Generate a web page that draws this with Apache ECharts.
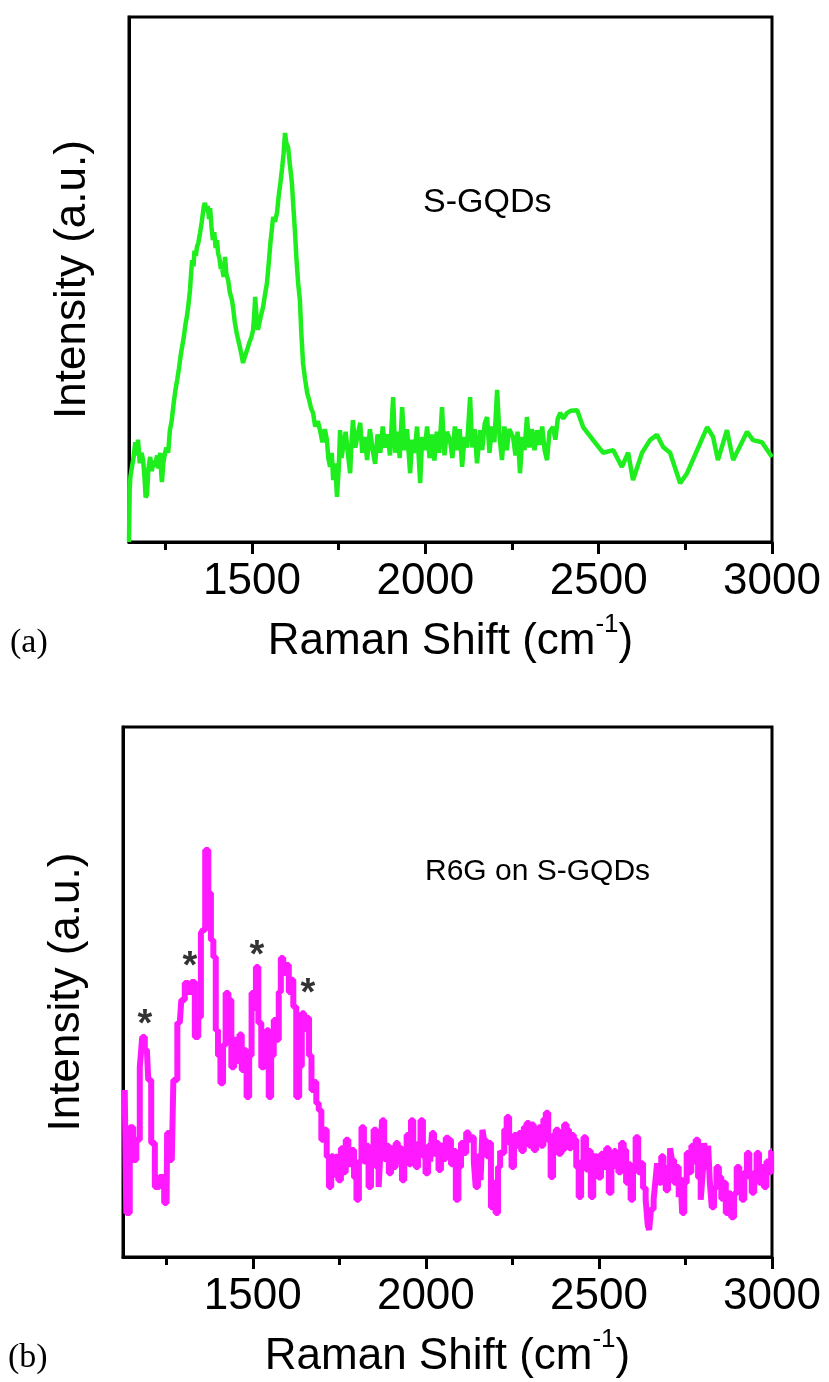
<!DOCTYPE html>
<html>
<head>
<meta charset="utf-8">
<title>Raman</title>
<script src="https://cdn.jsdelivr.net/npm/echarts@6/dist/echarts.min.js"></script>
<style>
  html,body{margin:0;padding:0;background:#fff;}
  #main{width:829px;height:1382px;}
</style>
</head>
<body>
<div id="main"></div>
<script>
// (a) S-GQDs
var shiftA = [1145,1147,1149,1154,1158,1163,1168,1171,1176,1181,1186,1190,1193,1197,1201,1206,1211,1215,1220,1226,1230,1235,1238,1240,1244,1249,1253,1258,1263,1268,1274,1279,1284,1289,1294,1298,1303,1308,1312,1317,1321,1324,1327,1331,1334,1338,1341,1345,1350,1355,1358,1361,1364,1368,1372,1376,1379,1383,1387,1391,1395,1399,1402,1406,1410,1413,1418,1422,1426,1431,1436,1442,1445,1450,1455,1460,1465,1470,1474,1480,1486,1492,1498,1503,1506,1509,1513,1517,1522,1527,1532,1537,1543,1548,1553,1557,1561,1566,1572,1577,1582,1587,1591,1595,1599,1604,1609,1615,1619,1624,1628,1633,1638,1642,1647,1653,1659,1665,1670,1676,1682,1690,1696,1703,1710,1716,1720,1725,1730,1734,1740,1745,1750,1754,1758,1763,1770,1777,1783,1787,1791,1798,1805,1812,1818,1825,
  1832,1840,1848,1855,1862,1870,1877,1884,1891,1898,1907,1913,1920,1926,1933,1940,1947,1956,1962,1969,1976,1985,1991,1998,2005,2012,2019,2026,2033,2040,2048,2055,2062,2071,2078,2085,2092,2099,2106,2113,2120,2129,2135,2142,2149,2158,2164,2171,2178,2185,2192,2199,2207,2214,2221,2228,2235,2242,2253,2260,2266,2273,2280,2286,2293,2300,2307,2315,2322,2330,2337,2344,2351,2358,2368,2375,2382,2389,2398,2409,2420,2438,
  2455,2484,2513,2542,2567,2585,2599,2625,2648,2668,2686,2706,2735,2755,2784,2813,2830,2844,2870,2888,2928,2945,2971,3000];
var intensityA = [0,10,12.4,14.5,16,19,16.5,19.5,15,17,15.5,12,8.5,9,14,16.2,13.5,15.5,14.3,16.5,14,17,13,11.4,15,17,18,17,21.3,23,26.5,29,30.9,33,35.5,37.1,39,41.5,42.9,45.5,48,51,53.7,52.5,55.5,54.5,56.2,57,58.9,61,62.5,64,64.6,63,64,61.5,63.6,60,57.5,59,56,57.5,55,54,52,52.4,50.5,54.3,51,49.9,47.5,46.1,44.8,42,40,38.5,37.1,35.5,34.1,35.5,36.6,38,39,40.4,43,46.7,43,40.4,42,43.5,44.8,47,49.3,53,57,59.5,61.9,61,62.7,66,68.5,71.4,74,77.9,76,75.2,72,68.4,64,58.9,54,49.3,46.1,40,34.1,31,28.4,27,25.5,24.6,22,23,21.3,19,21.5,19.4,16,14.3,17,11.8,15,8.6,14,21.3,16,18.1,21,16.5,13.1,19,23.2,18,20.5,22.7,17,20,
  15.6,21.5,17.5,14.9,20.5,17,22,18,20.5,16.5,27.6,17,21,16,25.7,17.5,21.5,13.1,19.5,17,22,11.2,20,17.5,22,16,20.5,15.5,21,17,25.7,16.5,21,19.4,16,22,17.5,21.5,14.3,20,18,27.6,18,21.5,15,21.3,17.5,22.5,23.8,17,22,19,29,20,15.6,22,17.5,21.5,20,16.5,21,13.1,20,17.5,23.8,18,21.5,17.5,21.3,18.5,22,17.5,15.6,21,21.9,19.5,23.5,24.6,23.5,24.6,25,25.1,
  21.9,19.4,17,17.5,14.3,17,11.8,17,19.4,20.4,18.1,17,11.2,13.1,17.5,21.9,20,15.6,21.3,15.6,21,19.4,19,16.2];

// (b) R6G on S-GQDs
var shiftB = [1130,1139,1150,1159,1168,1179,1182,1194,1202,1211,1223,1237,1251,1254,1266,1275,1289,1298,1309,1318,1327,1338,1347,1353,1358,1367,1376,1382,1390,1396,1403,1410,1418,1425,1434,1442,1450,1458,1465,1471,1478,1486,1493,1500,1506,1512,1520,1529,1536,1543,1549,1557,1564,1572,1578,1584,1592,1601,1607,1613,1621,1630,1638,1645,1652,1659,1666,1673,1680,1687,1694,1702,1710,1717,
  1723,1730,1736,1743,1751,1758,1765,1772,1780,1789,1796,1803,1810,1818,1824,1831,1838,1845,1853,1860,1867,1871,1876,1883,1890,1896,1903,1910,1916,1922,1928,1934,1941,1948,1954,1960,1967,1974,1981,1988,1995,2003,2010,2015,2020,2027,2033,2040,2047,2054,2061,2069,2076,2083,2090,2098,2105,2113,2120,2127,2136,2141,2147,2154,2162,2165,2172,2179,2185,2191,2198,2205,2212,2217,2223,2230,2237,2244,2251,2258,2265,2272,2279,2287,2295,2302,2308,2315,2322,2329,2336,2343,2350,2357,2364,2371,2379,2386,2396,2403,2410,2417,2424,2431,2438,2445,2452,2459,2466,2473,2480,2487,2494,2502,2510,2517,2525,2532,2540,2546,2552,2560,2568,2575,2582,2588,2595,2602,2610,2617,2624,2631,2639,2643,2647,2654,2662,2666,2670,2677,2683,2690,2696,2703,2708,2714,2720,2727,2734,2738,2743,2750,2757,2764,2770,2776,2783,2790,2798,2802,2806,2813,2818,2823,2829,2836,2843,2850,2857,2863,2870,2877,2887,2894,2902,2909,2916,2924,2931,2938,2945,2952,2959,2966,2973,2980,2988,2995,3000];
var intensityB = [31.5,8.3,24.5,18.3,22.1,35.8,41.5,39.1,33.4,21.5,13.2,15.1,10.2,23.4,18.3,33.4,44.2,48.5,51.7,50,51.9,41.5,45.3,61.1,61.7,76.8,68.7,59.8,56.6,42.8,38,32.8,40,49.8,48.5,35.8,41,37,42,35.3,39,30.2,38,49.8,47,54.7,44.2,35.8,40,42.8,30.2,38,44.7,41,50,56.4,53.6,55.1,50,52.3,47.2,30.2,36,46,43,45.1,38,31.5,33,29,27.7,22.1,24,18.9,
  13.2,19,15.5,18.9,14.5,20.5,16,22.1,17.5,20.2,15,10.8,18,24.5,18,21,13.2,19.5,24,17,13.2,20,25.8,18.5,21,15.8,20.5,17,21.5,18,20.5,14.5,19,23,17.5,25.8,19,17,21.5,25.8,19,15.8,21,18,23.4,19.5,21.5,16.4,21,18.5,22.5,22.1,17.5,20,10.8,17,21.5,19.6,23.5,22.1,22.6,18,13.2,19,14.5,24,22,19,21.5,9.4,14,8.3,17,20,19.6,24,26.4,21.5,17,23,21,23.4,20,24.5,25.3,21,25,20.2,24,24.5,21,26,27.2,22,15.1,23,24,19.5,20.2,25,24,20.5,23,22.1,17,11.3,18,22.6,16.5,20,11.3,19,18.9,15,19.5,17,20.5,12.1,17,20,18.9,16,21.5,20.2,14,17.5,10.8,17,22.6,16,17.7,13,10.8,6,5.1,9,10.8,15,17.7,14,19,16,12.6,17,20.5,18.3,14,17,11.3,15,8.3,14,19.6,16,21,18,22.1,15,10.8,16,21.5,17,21,14,9.4,13,17,15.1,11,14,8.3,12,7.5,12,17,13,10.8,16,19.6,15,12.1,16,19.6,14,17,13.2,18,16,20];

// asterisks over the R6G bands
var starShift = [1188, 1318, 1512, 1659];
var starHeight = [45.3, 56.4, 58.3, 51.3];

var majorTicks = [1500, 2000, 2500, 3000];
var minorTicks = [1250, 1750, 2250, 2750];

function pairs(xs, ys) {
  var out = [];
  for (var i = 0; i < xs.length; i++) {
    out.push([xs[i], ys[i]]);
  }
  return out;
}

var font = 'Liberation Sans, Arial, sans-serif';
var axisName = '{m|Raman Shift (cm}{s|-1}{m|)}';

function mainX(grid, min) {
  return {
    type: 'value', gridIndex: grid, position: 'bottom', min: min, max: 3000,
    name: axisName, nameLocation: 'middle', nameGap: 70,
    nameTextStyle: {
      color: '#000',
      rich: {
        m: {fontFamily: font, fontSize: 44, color: '#000', lineHeight: 60},
        s: {fontFamily: font, fontSize: 26, color: '#000', verticalAlign: 'top', lineHeight: 26}
      }
    },
    axisLine: {show: true, lineStyle: {color: '#000', width: 3}},
    axisTick: {show: true, customValues: majorTicks, length: 12, lineStyle: {color: '#000', width: 3}},
    axisLabel: {
      show: true, customValues: majorTicks, margin: 18, color: '#000', fontFamily: font, fontSize: 44,
      formatter: function (v) { return String(v); }
    },
    splitLine: {show: false}
  };
}
function minorX(grid, min) {
  return {
    type: 'value', gridIndex: grid, position: 'bottom', min: min, max: 3000,
    axisLine: {show: false},
    axisTick: {show: true, customValues: minorTicks, length: 8, lineStyle: {color: '#000', width: 3}},
    axisLabel: {show: false},
    splitLine: {show: false}
  };
}
function yAx(grid) {
  return {
    type: 'value', gridIndex: grid, min: 0, max: 100,
    name: 'Intensity (a.u.)', nameLocation: 'middle', nameGap: 34, nameRotate: 90,
    nameTextStyle: {color: '#000', fontFamily: font, fontSize: 44},
    axisLine: {show: true, lineStyle: {color: '#000', width: 3}},
    axisTick: {show: false}, axisLabel: {show: false}, splitLine: {show: false}
  };
}

var myChart = echarts.init(document.getElementById('main'), null, {renderer: 'canvas'});
var option = {
  backgroundColor: '#fff',
  animation: false,
  grid: [
    {left: 129, right: 57, top: 17, height: 525, show: true, borderColor: '#000', borderWidth: 3},
    {left: 123, right: 57, top: 727, height: 530, show: true, borderColor: '#000', borderWidth: 3}
  ],
  xAxis: [mainX(0, 1145), minorX(0, 1145), mainX(1, 1125), minorX(1, 1125)],
  yAxis: [yAx(0), yAx(1)],
  series: [
    {
      name: 'S-GQDs', type: 'line', xAxisIndex: 0, yAxisIndex: 0,
      data: pairs(shiftA, intensityA), showSymbol: false, symbol: 'none',
      lineStyle: {color: '#1eee1e', width: 4.5}
    },
    {
      name: 'R6G on S-GQDs', type: 'line', xAxisIndex: 2, yAxisIndex: 1,
      data: pairs(shiftB, intensityB), showSymbol: false, symbol: 'none', step: 'middle',
      lineStyle: {color: '#ff19ff', width: 6}
    },
    {
      type: 'scatter', xAxisIndex: 2, yAxisIndex: 1, symbolSize: 0,
      data: pairs(starShift, starHeight),
      label: {show: true, position: 'inside', formatter: '*', offset: [0, 9], color: '#000', fontFamily: font, fontSize: 38, fontWeight: 'bold'}
    }
  ],
  graphic: [
    {type: 'text', left: 423, top: 186, style: {text: 'S-GQDs', fill: '#000', font: '34px ' + font}},
    {type: 'text', left: 425, top: 857, style: {text: 'R6G on S-GQDs', fill: '#000', font: '30px ' + font}},
    {type: 'text', left: 10, top: 626, style: {text: '(a)', fill: '#000', font: '34px Liberation Serif, Times New Roman, serif'}},
    {type: 'text', left: 8, top: 1341, style: {text: '(b)', fill: '#000', font: '34px Liberation Serif, Times New Roman, serif'}}
  ]
};
myChart.setOption(option);
</script>
</body>
</html>
